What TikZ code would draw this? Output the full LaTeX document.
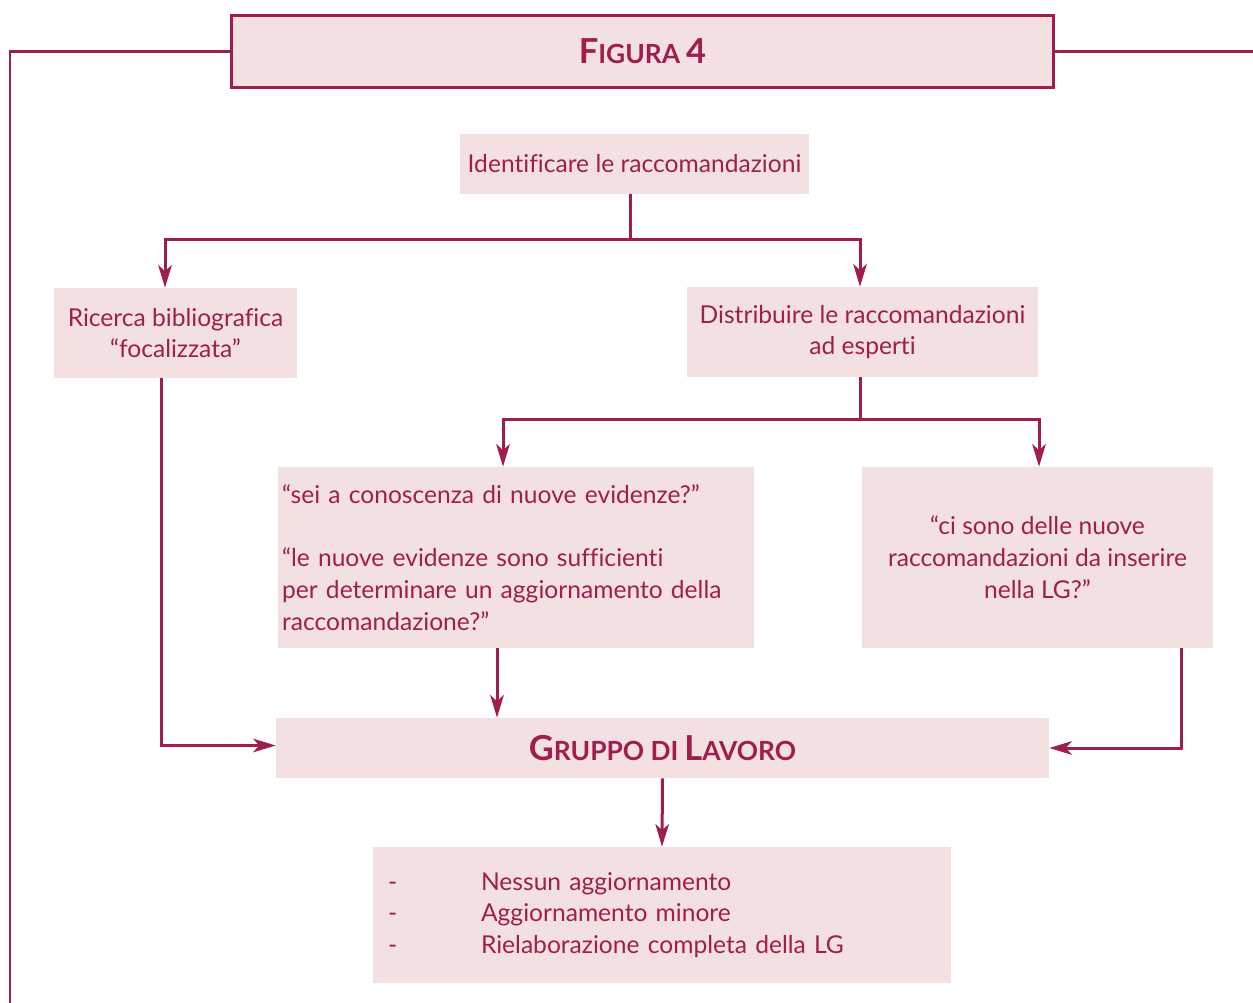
\documentclass[tikz,border=0pt]{standalone}
\usepackage{fontspec}
\setmainfont{Lato}[Ligatures=NoCommon]
\usetikzlibrary{arrows.meta,calc}
\definecolor{wine}{RGB}{160,30,78}
\definecolor{rose}{RGB}{243,225,226}
\newcommand{\capbig}[1]{{\fontsize{19.6}{20}\selectfont #1}}
\newcommand{\capsmall}[1]{{\fontsize{15}{20}\selectfont #1}}
\newcommand{\dashitem}{\makebox[1.86cm][l]{-}}
\begin{document}
\begin{tikzpicture}[x=0.02cm,y=-0.02cm,
  every node/.style={text=wine,font=\fontsize{14}{18.14}\selectfont},
  box/.style={fill=rose,draw=none,inner sep=0pt,align=center},
  ln/.style={draw=wine,line width=0.06cm},
  arr/.style={ln,-{Stealth[length=0.45cm,width=0.27cm,inset=0.12cm]}}]
\useasboundingbox (0,0) rectangle (1253,1003);

% title band and frame
\node[box,draw=wine,line width=0.06cm,minimum width=16.46cm,minimum height=1.46cm]
  (title) at (642.5,51.5) {\bfseries\capbig{F}\capsmall{IGURA} \capbig{4}};
\draw[ln] (title.west) -- (10,51.5) coordinate (fl) -- (10,1003);
\draw[ln] (title.east) -- (1253,51.5);

% boxes
\node[box,minimum width=6.98cm,minimum height=1.2cm] (ident) at (634.5,164)
  {Identificare le raccomandazioni};
\node[box,minimum width=4.86cm,minimum height=1.8cm] (ricerca) at (175.5,333)
  {Ricerca bibliografica\\``focalizzata''};
\node[box,minimum width=7.02cm,minimum height=1.8cm] (distrib) at (862.5,332)
  {Distribuire le raccomandazioni\\ad esperti};
\node[box,minimum width=9.52cm,minimum height=3.62cm,text width=9.36cm,align=left]
  (q1) at (516,557.5)
  {``sei a conoscenza di nuove evidenze?''\\[18.14pt]
   ``le nuove evidenze sono sufficienti\\
   per determinare un aggiornamento della\\
   raccomandazione?''};
\node[box,minimum width=7.02cm,minimum height=3.62cm] (q2) at (1037.5,557.5)
  {``ci sono delle nuove\\raccomandazioni da inserire\\nella LG?''};
\node[box,minimum width=15.46cm,minimum height=1.2cm] (gruppo) at (662.5,748)
  {\bfseries\capbig{G}\capsmall{RUPPO DI} \capbig{L}\capsmall{AVORO}};
\node[box,minimum width=11.56cm,minimum height=2.72cm,text width=10.96cm,align=left]
  (esiti) at (662,915)
  {\dashitem Nessun aggiornamento\\
   \dashitem Aggiornamento minore\\
   \dashitem Rielaborazione completa della LG};

% connectors
\coordinate (j1) at (630,240);
\draw[ln] (ident.south -| j1) -- (j1);
\draw[arr] (j1) -| ($(ricerca.north)+(-10.5,0)$);
\draw[arr] (j1) -| ($(distrib.north)+(-2.5,0)$);

\coordinate (j2) at (860,419);
\draw[ln] (distrib.south -| j2) -- (j2);
\draw[arr] (j2) -| ($(q1.north)+(-13,0)$);
\draw[arr] (j2) -| ($(q2.north)+(1.5,0)$);

\draw[arr] ($(ricerca.south)+(-14.5,0)$) |- ($(gruppo.west)+(0,-2.5)$);
\draw[arr] ($(q2.south)+(143.5,0)$) |- (gruppo.east);
\draw[arr] ($(q1.south)+(-19,0)$) coordinate (d1) -- (d1 |- gruppo.north);
\draw[arr] (gruppo.south) -- (esiti.north);
\end{tikzpicture}
\end{document}
